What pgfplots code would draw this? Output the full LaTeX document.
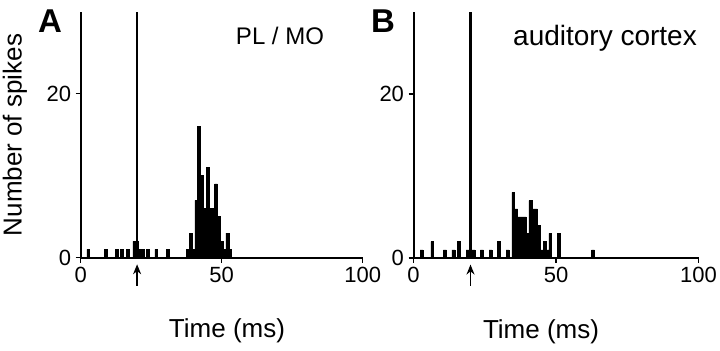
\documentclass[border=0pt]{standalone}
\usepackage{fontspec}
\setmainfont{Liberation Sans}
\usepackage{pgfplots}
\pgfplotsset{compat=1.18}
\usetikzlibrary{arrows.meta}

\pgfplotsset{
  hist/.style={
    scale only axis, height=246bp,
    xmin=0, xmax=100, ymin=0, ymax=30,
    axis x line*=bottom, axis y line*=left,
    xtick={0,50,100}, ytick={0,20},
    tick align=outside, major tick length=5bp,
    every tick/.style={black, line width=1.4bp},
    axis line style={line width=2bp},
    ticklabel style={font=\fontsize{22bp}{24bp}\selectfont},
    /pgf/number format/assume math mode=true,
    xticklabel style={yshift=-1bp},
    yticklabel style={xshift=-1bp},
    clip=false,
  },
  bars/.style={ybar, bar width=1, bar shift=0pt, fill=black, draw=black, line width=0.5bp},
}

\begin{document}
\begin{tikzpicture}
\useasboundingbox (0,0) rectangle (720bp,351bp);

% Panel A
\begin{axis}[hist, width=282bp, at={(80.7bp,93.3bp)}, anchor=south west]
\addplot[bars] coordinates {
 (2.7,1) (8.8,1) (12.7,1) (14.6,1) (16.6,1) (19,2) (20,2) (21,1) (22,1)
 (23.8,1) (26.8,1) (30.8,1)
 (38,1) (39,3) (40,1) (41,7) (42,16) (43,10) (44,6) (45,11) (46,6) (47,6)
 (48,9) (49,5) (50,2) (51,1) (52,3) (53,1)
};
\addplot[black, line width=2.2bp] coordinates {(20,0) (20,30)};
\draw[-{Stealth[length=10bp,width=8bp]}, line width=1.6bp] (axis cs:20,-3.4) -- (axis cs:20,-0.8);
\end{axis}

% Panel B
\begin{axis}[hist, width=285bp, at={(413.5bp,93bp)}, anchor=south west]
\addplot[bars] coordinates {
 (2.8,1) (6.6,2) (11,1) (14,1) (16,2) (19,1) (20,1) (21,1) (24,1) (27,1)
 (30,2) (33,1)
 (35,8) (36,6) (37,5) (38,5) (39,5) (40,3) (41,7) (42,6) (43,6) (44,4)
 (45,1) (46,2) (47,1) (48,3) (51,3) (63,1)
};
\addplot[black, line width=2.2bp] coordinates {(20,0) (20,30)};
\draw[-{Stealth[length=10bp,width=8bp]}, line width=1.6bp] (axis cs:20,-3.4) -- (axis cs:20,-0.8);
\end{axis}

% Texts
\node[rotate=90, font=\fontsize{26bp}{28bp}\selectfont] at (15bp,216bp) {Number of spikes};
\node[font=\fontsize{33bp}{36bp}\selectfont\bfseries] at (50bp,330bp) {A};
\node[font=\fontsize{33bp}{36bp}\selectfont\bfseries] at (383bp,330bp) {B};
\node[anchor=base, font=\fontsize{26bp}{28bp}\selectfont] at (227bp,14bp) {Time (ms)};
\node[anchor=base, font=\fontsize{26bp}{28bp}\selectfont] at (541bp,13bp) {Time (ms)};
\node[anchor=base, font=\fontsize{24bp}{26bp}\selectfont] at (280bp,306bp) {PL / MO};
\node[anchor=base, font=\fontsize{28bp}{30bp}\selectfont] at (605bp,305bp) {auditory cortex};
\end{tikzpicture}
\end{document}
